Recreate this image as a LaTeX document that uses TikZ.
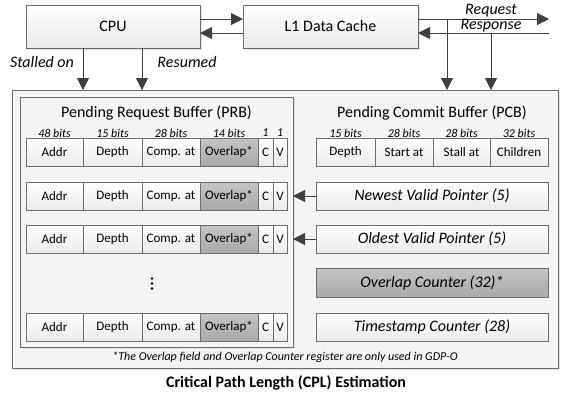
\documentclass[tikz,border=0pt]{standalone}
\usepackage{fontspec}
\setmainfont{Carlito}
\usetikzlibrary{arrows.meta,calc}
\definecolor{edge}{HTML}{6E6E6E}
\definecolor{wire}{HTML}{3F3F3F}
\definecolor{panel}{HTML}{F4F4F4}
\definecolor{boxlow}{HTML}{EAEAEA}
\definecolor{darktop}{HTML}{C4C4C4}
\definecolor{darklow}{HTML}{A9A9A9}
\tikzset{
  big/.style={font=\fontsize{16}{19}\selectfont},
  mid/.style={font=\fontsize{13}{15}\selectfont},
  bits/.style={font=\fontsize{12}{14}\selectfont\itshape},
  unit/.style={draw=edge, line width=0.8pt, top color=white, bottom color=boxlow,
    inner sep=0pt, outer sep=0pt},
  darkunit/.style={unit, top color=darktop, bottom color=darklow},
  field/.style={unit, mid, minimum height=28, anchor=north west},
  darkfield/.style={darkunit, mid, minimum height=28, anchor=north west},
  frame/.style={draw=edge, line width=0.8pt, fill=panel, inner sep=0pt, outer sep=0pt},
  haze/.style={fill=black!12},
  arr/.style={draw=wire, line width=1pt, -{Triangle[length=12pt,width=12pt]}},
}
\begin{document}
\begin{tikzpicture}[x=1pt,y=-1pt]
\useasboundingbox (0,0) rectangle (561,394);

% top level blocks
\fill[haze] (28,7) rectangle (202,50);
\node[unit, big, minimum width=174, minimum height=43] (cpu) at (113,26.5) {CPU};
\fill[haze] (245,7) rectangle (420,50);
\node[unit, big, minimum width=175, minimum height=43] (l1) at (330.5,26.5) {L1 Data Cache};

% outer estimation unit
\fill[haze] (14,92) rectangle (560,370);
\node[frame, minimum width=546, minimum height=278] (outer) at (285,229) {};

% pending request buffer frame
\fill[haze] (22,99) rectangle (295,349);
\node[frame, fill=panel, minimum width=273, minimum height=250] (prb) at (156.5,222) {};
\node[big] (prbtitle) at (156.5,113) {Pending Request Buffer (PRB)};
\node[bits] (b1) at (54.5,133) {48 bits};
\node[bits] (b2) at (112.5,133) {15 bits};
\node[bits] (b3) at (171,133) {28 bits};
\node[bits] (b4) at (229,133) {14 bits};
\node[bits] (b5) at (265.5,133) {1};
\node[bits] (b6) at (280,133) {1};

% PRB entries
\foreach \r/\t in {1/138,2/182,3/225,4/313}{
  \node[field, minimum width=57] (a\r) at (26,\t) {Addr};
  \node[field, minimum width=59] (d\r) at (83,\t) {Depth};
  \node[field, minimum width=58] (c\r) at (142,\t) {Comp. at};
  \node[darkfield, minimum width=58] (o\r) at (200,\t) {Overlap*};
  \node[field, minimum width=15] (cc\r) at (258,\t) {C};
  \node[field, minimum width=14] (v\r) at (273,\t) {V};
}
\foreach \yy in {278.5,283.5,288.5}
  \fill[black] (152,\yy) circle (1.3);

% pending commit buffer
\node[big] (pcbtitle) at (432,113) {Pending Commit Buffer (PCB)};
\node[bits] (p1) at (345.5,133) {15 bits};
\node[bits] (p2) at (404,133) {28 bits};
\node[bits] (p3) at (461.5,133) {28 bits};
\node[bits] (p4) at (519,133) {32 bits};
\node[field, minimum width=59] (pd) at (316,138) {Depth};
\node[field, minimum width=58] (ps) at (375,138) {Start at};
\node[field, minimum width=57] (pt) at (433,138) {Stall at};
\node[field, minimum width=58] (pc) at (490,138) {Children};

% registers
\node[field, big, minimum width=232, font=\fontsize{16}{19}\selectfont\itshape] (nvp) at (316,182) {Newest Valid Pointer (5)};
\node[field, big, minimum width=232, font=\fontsize{16}{19}\selectfont\itshape] (ovp) at (316,225) {Oldest Valid Pointer (5)};
\node[darkfield, big, minimum width=232, minimum height=29, font=\fontsize{16}{19}\selectfont\itshape] (ocnt) at (316,268) {Overlap Counter (32)*};
\node[field, big, minimum width=232, font=\fontsize{16}{19}\selectfont\itshape] (tcnt) at (316,313) {Timestamp Counter (28)};

\draw[arr] (nvp.west) -- (prb.east |- nvp.west);
\draw[arr] (ovp.west) -- (prb.east |- ovp.west);

% footnote and caption
\node[font=\fontsize{12}{14}\selectfont\itshape] (note) at (285,357.5)
  {*The Overlap field and Overlap Counter register are only used in GDP-O};
\node[font=\fontsize{16}{19}\selectfont\bfseries] (caption) at (286,383)
  {Critical Path Length (CPL) Estimation};

% CPU <-> L1
\draw[arr] ([yshift=7.5]cpu.east) -- ([yshift=7.5]l1.west);
\draw[arr] ([yshift=-6.5]l1.west) -- ([yshift=-6.5]cpu.east);

% CPU status signals
\draw[arr] (a1.east |- cpu.south) -- (a1.east |- outer.north);
\draw[arr] (d1.east |- cpu.south) -- (d1.east |- outer.north);
\node[big, font=\fontsize{16}{19}\selectfont\itshape] (stall) at (42,62) {Stalled on};
\node[big, font=\fontsize{16}{19}\selectfont\itshape] (resume) at (187,62) {Resumed};

% memory side request / response
\coordinate (reqend) at (549,19);
\coordinate (respin) at (549,33);
\coordinate (reqtap) at (447,19);
\coordinate (resptap) at (491,33);
\draw[arr] ([yshift=7.5]l1.east) -- (reqend);
\draw[arr] (respin) -- ([yshift=-6.5]l1.east);
\draw[arr] (reqtap) -- (reqtap |- outer.north);
\draw[arr] (resptap) -- (resptap |- outer.north);
\node[font=\fontsize{16}{19}\selectfont\itshape] (req) at (491,11) {Request};
\node[font=\fontsize{16}{19}\selectfont\itshape] (resp) at (491,25.5) {Response};
\end{tikzpicture}
\end{document}
